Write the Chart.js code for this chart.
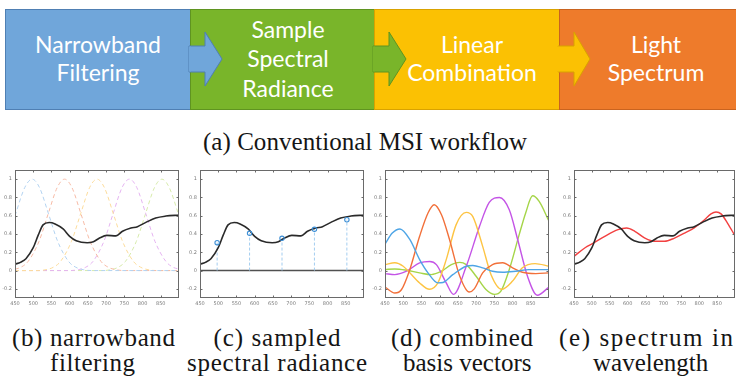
<!DOCTYPE html>
<html><head><meta charset="utf-8">
<script src="https://cdn.jsdelivr.net/npm/chart.js@4.4.1/dist/chart.umd.min.js"></script>
<style>
html,body{margin:0;padding:0;background:#fff;}
#page{position:relative;width:736px;height:378px;overflow:hidden;background:#fff;}
.box{position:absolute;top:9px;height:101px;box-sizing:border-box;border:1px solid;}
.bt{position:absolute;color:#fff;font-family:Lato,"Open Sans",sans-serif;font-size:23px;white-space:nowrap;transform:translateX(-50%);line-height:1;}
.cap{position:absolute;font-family:"Liberation Serif",serif;font-size:25px;color:#151515;white-space:nowrap;line-height:1;}
canvas{position:absolute;top:160px;}
svg{position:absolute;left:0;top:0;}
</style></head>
<body><div id="page">
<div class="box" style="left:5px;width:186px;background:#70a6da;border-color:#4f7fb3;"></div>
<div class="box" style="left:190px;width:185px;background:#79b52a;border-color:#5f9420;"></div>
<div class="box" style="left:374px;width:186px;background:#fbc103;border-color:#d9a200;"></div>
<div class="box" style="left:559px;width:190px;background:#ee7b2b;border-color:#c9631f;"></div>
<svg width="736" height="120">
<polygon points="189,46 205,46 205,32 222,59 205,86 205,72 189,72" fill="#70a6da" stroke="#4f7fb3" stroke-width="1"/>
<polygon points="373,46 389,46 389,32 406,59 389,86 389,72 373,72" fill="#79b52a" stroke="#5f9420" stroke-width="1"/>
<polygon points="558,46 574,46 574,32 590,59 574,86 574,72 558,72" fill="#fbc103" stroke="#d9a200" stroke-width="1"/>
<rect x="189" y="46.5" width="2" height="25" fill="#70a6da"/>
<rect x="373" y="46.5" width="2" height="25" fill="#79b52a"/>
<rect x="557" y="46.5" width="2" height="25" fill="#fbc103"/>
</svg>
<div class="bt" style="left:98px;top:33px;">Narrowband</div>
<div class="bt" style="left:98px;top:61px;">Filtering</div>
<div class="bt" style="left:288px;top:18px;">Sample</div>
<div class="bt" style="left:288px;top:47px;">Spectral</div>
<div class="bt" style="left:288px;top:77px;">Radiance</div>
<div class="bt" style="left:472px;top:33px;">Linear</div>
<div class="bt" style="left:472px;top:61px;">Combination</div>
<div class="bt" style="left:656px;top:33px;">Light</div>
<div class="bt" style="left:656px;top:61px;">Spectrum</div>

<canvas id="c1" width="185" height="150" style="left:0px;"></canvas>
<canvas id="c2" width="185" height="150" style="left:185px;"></canvas>
<canvas id="c3" width="185" height="150" style="left:370px;"></canvas>
<canvas id="c4" width="177" height="150" style="left:559px;"></canvas>
<div id="caps"></div>
</div>
<script>
// ---------- data ----------
const xTickValues = [450, 500, 550, 600, 650, 700, 750, 800, 850];
const xTickLabels = ['450', '500', '550', '600', '650', '700', '750', '800', '850'];
const yTickValues = [-0.2, 0, 0.2, 0.4, 0.6, 0.8, 1];
const yTickLabels = ['-0.2', '0', '0.2', '0.4', '0.6', '0.8', '1'];

const spectrumWl  = [450, 465, 480, 500, 514, 527, 544, 560, 582, 600, 618, 648, 665, 682, 702, 727, 745, 768, 786, 809, 836, 864, 900];
const spectrumVal = [0.07, 0.09, 0.13, 0.25, 0.39, 0.50, 0.525, 0.51, 0.455, 0.375, 0.327, 0.305, 0.315, 0.356, 0.385, 0.38, 0.43, 0.465, 0.48, 0.527, 0.575, 0.596, 0.607];

const filterBlueWl    = [450, 477, 497, 517, 542, 567, 597, 617, 637, 660, 900];
const filterBlueVal   = [0.60, 0.91, 1, 0.91, 0.62, 0.32, 0.10, 0.036, 0.01, 0, 0];
const filterOrangeWl  = [450, 466, 486, 516, 541, 566, 586, 606, 631, 656, 686, 706, 726, 750, 900];
const filterOrangeVal = [0.014, 0.036, 0.10, 0.32, 0.62, 0.91, 1, 0.91, 0.62, 0.32, 0.10, 0.036, 0.01, 0, 0];
const filterYellowWl  = [450, 515, 535, 555, 575, 605, 630, 655, 675, 695, 720, 745, 775, 795, 815, 840, 900];
const filterYellowVal = [0, 0, 0.01, 0.036, 0.10, 0.32, 0.62, 0.91, 1, 0.91, 0.62, 0.32, 0.10, 0.036, 0.01, 0, 0];
const filterPurpleWl  = [450, 600, 624, 644, 664, 694, 719, 744, 764, 784, 809, 834, 864, 884, 900];
const filterPurpleVal = [0, 0, 0.01, 0.036, 0.10, 0.32, 0.62, 0.91, 1, 0.91, 0.62, 0.32, 0.10, 0.036, 0.016];
const filterGreenWl   = [450, 690, 713, 733, 753, 783, 808, 833, 853, 873, 900];
const filterGreenVal  = [0, 0, 0.01, 0.036, 0.10, 0.32, 0.62, 0.91, 1, 0.91, 0.60];

const sampleWl  = [497, 586, 675, 764, 853];
const sampleVal = [0.305, 0.407, 0.353, 0.451, 0.556];

const basisBlueWl    = [450, 470, 491, 518, 545, 568, 595, 609, 636, 673, 691, 718, 745, 773, 809, 845, 900];
const basisBlueVal   = [0.29, 0.41, 0.455, 0.34, 0.12, -0.025, -0.135, -0.13, -0.045, 0.047, 0.055, 0.03, -0.007, -0.018, -0.007, 0.01, 0.01];
const basisOrangeWl  = [450, 477, 495, 518, 545, 568, 585, 605, 627, 655, 681, 695, 718, 745, 773, 800, 827, 864, 900];
const basisOrangeVal = [-0.18, -0.245, -0.21, 0.01, 0.375, 0.63, 0.72, 0.61, 0.34, -0.06, -0.235, -0.20, -0.025, 0.065, 0.085, 0.03, -0.018, -0.033, -0.025];
const basisYellowWl  = [450, 477, 500, 518, 545, 572, 595, 618, 645, 673, 691, 718, 741, 770, 800, 827, 862, 900];
const basisYellowVal = [0.065, 0.085, 0.047, -0.025, -0.135, -0.205, -0.135, 0.12, 0.5, 0.636, 0.59, 0.265, -0.045, -0.205, -0.115, 0.03, 0.076, 0.047];
const basisPurpleWl  = [450, 477, 509, 545, 573, 591, 618, 638, 673, 709, 736, 764, 791, 814, 841, 868, 900];
const basisPurpleVal = [-0.033, -0.044, -0.007, 0.084, 0.10, 0.065, -0.135, -0.26, 0.047, 0.48, 0.745, 0.80, 0.665, 0.34, -0.062, -0.27, -0.18];
const basisGreenWl   = [450, 477, 509, 545, 577, 605, 632, 655, 673, 700, 727, 750, 768, 791, 818, 836, 855, 873, 900];
const basisGreenVal  = [0.011, 0.018, 0.004, -0.025, -0.044, -0.007, 0.065, 0.09, 0.065, -0.062, -0.207, -0.26, -0.225, 0.011, 0.39, 0.63, 0.818, 0.756, 0.54];

const reconWl  = [450, 481, 504, 536, 573, 597, 620, 648, 675, 703, 731, 759, 787, 815, 833, 847, 861, 879, 900];
const reconVal = [0.155, 0.25, 0.30, 0.375, 0.447, 0.465, 0.43, 0.356, 0.32, 0.32, 0.356, 0.41, 0.47, 0.556, 0.62, 0.64, 0.62, 0.52, 0.38];

// ---------- helpers ----------
const pts = (xs, ys) => xs.map((x, i) => ({x: x, y: ys[i]}));

const boxPlugin = {
  id: 'matlabBox',
  afterDatasetsDraw(chart) {
    const {ctx, chartArea: a, scales: {x, y}} = chart;
    ctx.save();
    ctx.strokeStyle = '#6a6a6a';
    ctx.lineWidth = 1;
    const l = Math.round(a.left) + 0.5, t = Math.round(a.top) + 0.5;
    const r = Math.round(a.right) - 0.5, b = Math.round(a.bottom) - 0.5;
    ctx.strokeRect(l, t, r - l, b - t);
    ctx.beginPath();
    const L = 2;
    x.ticks.forEach(tk => {
      const p = Math.round(x.getPixelForValue(tk.value)) + 0.5;
      ctx.moveTo(p, t); ctx.lineTo(p, t + L);
      ctx.moveTo(p, b); ctx.lineTo(p, b - L);
    });
    y.ticks.forEach(tk => {
      const p = Math.round(y.getPixelForValue(tk.value)) + 0.5;
      ctx.moveTo(l, p); ctx.lineTo(l + L, p);
      ctx.moveTo(r, p); ctx.lineTo(r - L, p);
    });
    ctx.stroke();
    ctx.restore();
  }
};

function scales() {
  const tickFont = {size: 5, family: '"DejaVu Sans", sans-serif'};
  return {
    x: {
      type: 'linear', min: 450, max: 900,
      afterBuildTicks: s => { s.ticks = xTickValues.map(v => ({value: v})); },
      afterFit: s => { s.height = 12; },
      grid: {display: false, drawTicks: false},
      border: {display: false},
      ticks: {font: tickFont, color: '#7a7a7a', padding: 3, maxRotation: 0, autoSkip: false,
              callback: (v, i) => xTickLabels[i]}
    },
    y: {
      type: 'linear', min: -0.3, max: 1.1,
      afterBuildTicks: s => { s.ticks = yTickValues.map(v => ({value: v})); },
      afterFit: s => { s.width = 15; },
      grid: {display: false, drawTicks: false},
      border: {display: false},
      ticks: {font: tickFont, color: '#7a7a7a', padding: 3, autoSkip: false,
              callback: (v, i) => yTickLabels[i]}
    }
  };
}

function line(data, color, width, dash) {
  return {data: data, borderColor: color, borderWidth: width, borderDash: dash || [],
          pointRadius: 0, cubicInterpolationMode: 'monotone', fill: false};
}

function makeChart(id, datasets, padRight) {
  return new Chart(document.getElementById(id), {
    type: 'line',
    data: {datasets: datasets},
    options: {
      responsive: false, animation: false, devicePixelRatio: 1,
      layout: {padding: {top: 10, right: padRight, left: 0, bottom: 0}},
      plugins: {legend: {display: false}, tooltip: {enabled: false}},
      scales: scales()
    },
    plugins: [boxPlugin]
  });
}

// (b) narrowband filtering
makeChart('c1', [
  line(pts(spectrumWl, spectrumVal), '#2a2a2a', 1.6),
  line(pts(filterBlueWl, filterBlueVal), '#b3d3f1', 1, [4, 3]),
  line(pts(filterOrangeWl, filterOrangeVal), '#f7bba6', 1, [4, 3]),
  line(pts(filterYellowWl, filterYellowVal), '#fcdc9c', 1, [4, 3]),
  line(pts(filterPurpleWl, filterPurpleVal), '#e5b4f1', 1, [4, 3]),
  line(pts(filterGreenWl, filterGreenVal), '#d7ebab', 1, [4, 3])
], 6);

// (c) sampled spectral radiance
const stemData = [];
sampleWl.forEach((w, i) => { stemData.push({x: w, y: 0}, {x: w, y: sampleVal[i]}, {x: w, y: null}); });
makeChart('c2', [
  {data: pts(sampleWl, sampleVal), showLine: false, pointRadius: 2.2, pointStyle: 'circle',
   borderColor: '#3d8fd6', backgroundColor: 'rgba(0,0,0,0)', pointBorderWidth: 1.1},
  line(pts(spectrumWl, spectrumVal), '#2a2a2a', 1.6),
  {data: stemData, borderColor: '#a3cdf0', borderWidth: 1, borderDash: [3, 2], pointRadius: 0, spanGaps: false},
  {data: [{x: 450, y: 0}, {x: 900, y: 0}], borderColor: '#505050', borderWidth: 1.6, pointRadius: 0}
], 6);

// (d) combined basis vectors
makeChart('c3', [
  line(pts(basisBlueWl, basisBlueVal), '#4ea5e6', 1.4),
  line(pts(basisOrangeWl, basisOrangeVal), '#f2703a', 1.4),
  line(pts(basisYellowWl, basisYellowVal), '#fdc443', 1.4),
  line(pts(basisPurpleWl, basisPurpleVal), '#c454e6', 1.4),
  line(pts(basisGreenWl, basisGreenVal), '#a5d548', 1.4)
], 6);

// (e) spectrum in wavelength
makeChart('c4', [
  line(pts(spectrumWl, spectrumVal), '#2a2a2a', 1.6),
  line(pts(reconWl, reconVal), '#f24040', 1.4)
], 1);

// ---------- captions ----------
const captions = [
  {t: '(a) Conventional MSI workflow', cx: 365, top: 128.5, w: 324},
  {t: '(b) narrowband', cx: 93.5, top: 324.5, w: 163},
  {t: 'filtering', cx: 92.5, top: 349.5, w: 85},
  {t: '(c) sampled', cx: 277, top: 324.5, w: 127},
  {t: 'spectral radiance', cx: 277, top: 349.5, w: 180},
  {t: '(d) combined', cx: 462, top: 324.5, w: 142},
  {t: 'basis vectors', cx: 466, top: 349.5, w: 126},
  {t: '(e) spectrum in', cx: 646, top: 324.5, w: 174},
  {t: 'wavelength', cx: 648, top: 349.5, w: 110}
];
const mctx = document.createElement('canvas').getContext('2d');
mctx.font = '25px "Liberation Serif"';
const capsEl = document.getElementById('caps');
captions.forEach(c => {
  const d = document.createElement('div');
  d.className = 'cap';
  d.textContent = c.t;
  const nat = mctx.measureText(c.t).width;
  const ls = Math.max(0, (c.w - nat) / (c.t.length - 1));
  d.style.letterSpacing = ls.toFixed(2) + 'px';
  d.style.left = (c.cx - c.w / 2) + 'px';
  d.style.top = c.top + 'px';
  capsEl.appendChild(d);
});
</script>
</body></html>
